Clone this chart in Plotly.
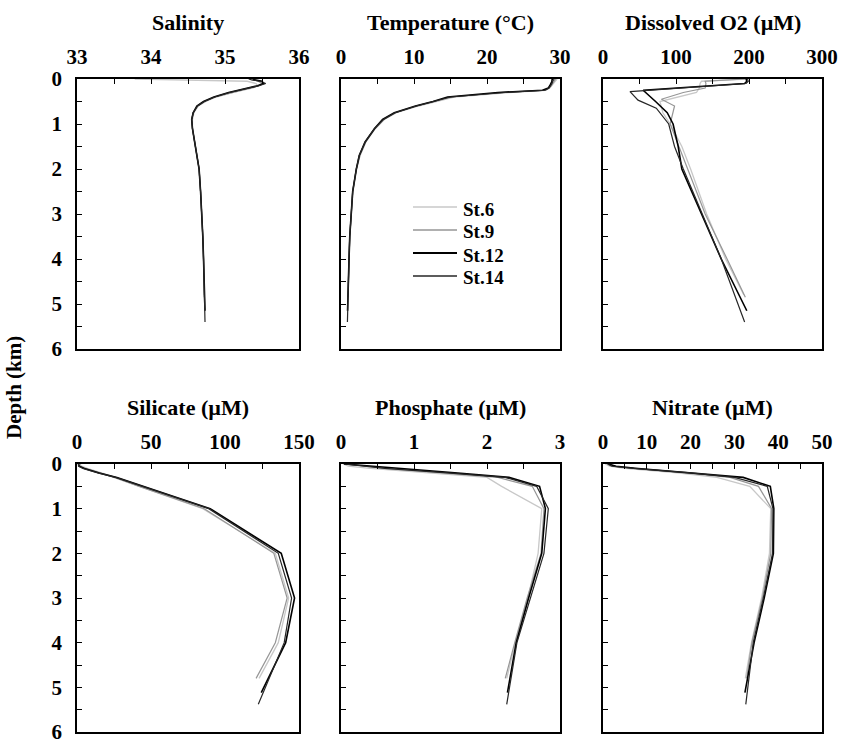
import plotly.graph_objects as go

W, H = 852, 745

STATIONS = ["St.6", "St.9", "St.12", "St.14"]
COLORS = {"St.6": "#c8c8c8", "St.9": "#969696", "St.12": "#000000", "St.14": "#262626"}
WIDTHS = {"St.6": 1.3, "St.9": 1.2, "St.12": 1.6, "St.14": 1.2}

# ---- CTD profiles (depth in km) ----
CTD_DEPTH_6 = [0, 0.02, 0.05, 0.1, 0.15, 0.2, 0.25, 0.3, 0.4, 0.5, 0.6, 0.75, 0.9, 1.1, 1.4, 1.7, 2.0, 2.5, 3.0, 3.5, 4.0, 4.5, 4.8]
CTD_DEPTH_9 = [0, 0.02, 0.05, 0.1, 0.15, 0.2, 0.25, 0.3, 0.4, 0.5, 0.6, 0.75, 0.9, 1.1, 1.4, 1.7, 2.0, 2.5, 3.0, 3.5, 4.0, 4.5, 4.85]
CTD_DEPTH_12 = [0, 0.02, 0.05, 0.1, 0.15, 0.2, 0.25, 0.3, 0.4, 0.5, 0.6, 0.75, 0.9, 1.1, 1.4, 1.7, 2.0, 2.5, 3.0, 3.5, 4.0, 4.5, 5.0, 5.15]
CTD_DEPTH_14 = [0, 0.02, 0.05, 0.1, 0.15, 0.2, 0.25, 0.3, 0.4, 0.5, 0.6, 0.75, 0.9, 1.1, 1.4, 1.7, 2.0, 2.5, 3.0, 3.5, 4.0, 4.5, 5.0, 5.4]

SAL_6 = [33.78, 34.60, 35.30, 35.42, 35.44, 35.38, 35.24, 35.10, 34.88, 34.74, 34.64, 34.58, 34.56, 34.56, 34.59, 34.62, 34.65, 34.67, 34.69, 34.70, 34.71, 34.72, 34.72]
SAL_9 = [35.36, 35.38, 35.45, 35.50, 35.46, 35.34, 35.20, 35.08, 34.87, 34.73, 34.63, 34.57, 34.55, 34.56, 34.59, 34.62, 34.65, 34.67, 34.69, 34.70, 34.71, 34.72, 34.72]
SAL_12 = [35.38, 35.40, 35.50, 35.52, 35.44, 35.30, 35.16, 35.05, 34.85, 34.71, 34.62, 34.57, 34.55, 34.56, 34.59, 34.62, 34.65, 34.67, 34.69, 34.70, 34.71, 34.72, 34.72, 34.73]
SAL_14 = [35.32, 35.36, 35.48, 35.55, 35.46, 35.32, 35.18, 35.06, 34.86, 34.72, 34.63, 34.57, 34.55, 34.56, 34.59, 34.62, 34.65, 34.67, 34.69, 34.70, 34.71, 34.72, 34.73, 34.73]

TEMP_6 = [29.6, 29.5, 29.3, 29.1, 28.9, 28.6, 28.0, 23.0, 15.5, 13.0, 10.6, 7.6, 5.9, 4.7, 3.4, 2.6, 2.15, 1.65, 1.4, 1.2, 1.1, 1.0, 0.95]
TEMP_9 = [29.4, 29.3, 29.2, 29.0, 28.8, 28.5, 27.8, 22.0, 15.2, 12.9, 10.5, 7.5, 5.9, 4.7, 3.4, 2.6, 2.1, 1.6, 1.35, 1.2, 1.1, 1.0, 0.95]
TEMP_12 = [29.0, 28.9, 28.9, 28.8, 28.6, 28.4, 27.6, 21.5, 14.6, 12.6, 10.2, 7.3, 5.7, 4.6, 3.3, 2.5, 2.1, 1.6, 1.35, 1.2, 1.1, 1.0, 0.9, 0.9]
TEMP_14 = [29.2, 29.1, 29.0, 28.9, 28.7, 28.5, 28.0, 22.5, 15.0, 12.8, 10.3, 7.4, 5.8, 4.6, 3.3, 2.5, 2.1, 1.6, 1.35, 1.2, 1.1, 1.0, 0.9, 0.88]

# ---- Dissolved O2 bottle profiles ----
O2_DEPTH_6 = [0, 0.05, 0.1, 0.2, 0.3, 0.5, 0.75, 1.0, 1.5, 2.0, 3.0, 4.0, 4.8]
O2_6 = [196, 135, 133, 132, 128, 78, 82, 92, 108, 120, 142, 168, 193]
O2_DEPTH_9 = [0, 0.05, 0.1, 0.2, 0.3, 0.45, 0.6, 1.0, 1.5, 2.0, 3.0, 4.0, 4.85]
O2_9 = [195, 140, 141, 140, 110, 80, 98, 92, 104, 116, 140, 170, 195]
O2_DEPTH_12 = [0, 0.05, 0.1, 0.25, 0.5, 0.75, 1.0, 1.5, 2.0, 3.0, 4.0, 5.15]
O2_12 = [196, 197, 194, 55, 72, 88, 96, 103, 108, 135, 162, 197]
O2_DEPTH_14 = [0, 0.05, 0.1, 0.28, 0.47, 0.65, 1.0, 1.5, 2.0, 3.0, 4.0, 5.4]
O2_14 = [198, 199, 196, 37, 48, 73, 90, 98, 110, 136, 162, 194]

# ---- Nutrient bottle profiles ----
NUT_DEPTH_6 = [0, 0.05, 0.1, 0.2, 0.3, 0.5, 1.0, 2.0, 3.0, 4.0, 4.8]
NUT_DEPTH_9 = [0, 0.05, 0.1, 0.2, 0.3, 0.5, 1.0, 2.0, 3.0, 4.0, 4.8]
NUT_DEPTH_12 = [0, 0.05, 0.1, 0.2, 0.3, 0.5, 1.0, 2.0, 3.0, 4.0, 5.12]
NUT_DEPTH_14 = [0, 0.05, 0.1, 0.2, 0.3, 0.5, 1.0, 2.0, 3.0, 4.0, 5.38]

SIL_6 = [2, 3, 7, 17, 26, 42, 85, 134, 143, 136, 123]
SIL_9 = [2, 2, 6, 16, 25, 42, 86, 133, 142, 134, 121]
SIL_12 = [1, 1.5, 5, 15, 27, 45, 90, 138, 147, 141, 124.5]
SIL_14 = [1, 1, 4, 14, 26, 44, 89, 136, 145, 140, 122.5]

PHO_6 = [0.03, 0.10, 0.40, 1.20, 2.00, 2.20, 2.75, 2.70, 2.56, 2.39, 2.27]
PHO_9 = [0.05, 0.35, 0.60, 1.40, 2.15, 2.62, 2.78, 2.74, 2.55, 2.38, 2.25]
PHO_12 = [0.04, 0.45, 0.80, 1.60, 2.30, 2.72, 2.80, 2.75, 2.57, 2.40, 2.28]
PHO_14 = [0.05, 0.30, 0.60, 1.45, 2.25, 2.68, 2.84, 2.78, 2.60, 2.41, 2.27]

NIT_6 = [0.5, 1.5, 5, 17, 26, 33.5, 38.3, 38.0, 36.2, 33.9, 32.5]
NIT_9 = [1.5, 2.5, 7, 19, 29, 35.5, 38.5, 38.3, 36.4, 34.0, 32.8]
NIT_12 = [1.2, 3.0, 8, 21, 32, 38.2, 39.0, 38.9, 36.8, 34.5, 32.4]
NIT_14 = [1.0, 2.0, 7, 20, 30, 37.5, 38.8, 38.7, 36.6, 34.3, 32.6]

TITLES = ["Salinity", "Temperature (\u00b0C)", "Dissolved O2 (\u00b5M)",
          "Silicate (\u00b5M)", "Phosphate (\u00b5M)", "Nitrate (\u00b5M)"]
X_RANGES = [[33, 36], [0, 30], [0, 300], [0, 150], [0, 3], [0, 50]]
X_LABELS = [[33, 34, 35, 36], [0, 10, 20, 30], [0, 100, 200, 300],
            [0, 50, 100, 150], [0, 1, 2, 3], [0, 10, 20, 30, 40, 50]]
X_MINOR = [0.5, 5, 50, 25, 0.5, 5]
Y_LABELS = [0, 1, 2, 3, 4, 5, 6]
Y_TITLE = "Depth (km)"

panels = [
    {"St.6": (CTD_DEPTH_6, SAL_6), "St.9": (CTD_DEPTH_9, SAL_9), "St.12": (CTD_DEPTH_12, SAL_12), "St.14": (CTD_DEPTH_14, SAL_14)},
    {"St.6": (CTD_DEPTH_6, TEMP_6), "St.9": (CTD_DEPTH_9, TEMP_9), "St.12": (CTD_DEPTH_12, TEMP_12), "St.14": (CTD_DEPTH_14, TEMP_14)},
    {"St.6": (O2_DEPTH_6, O2_6), "St.9": (O2_DEPTH_9, O2_9), "St.12": (O2_DEPTH_12, O2_12), "St.14": (O2_DEPTH_14, O2_14)},
    {"St.6": (NUT_DEPTH_6, SIL_6), "St.9": (NUT_DEPTH_9, SIL_9), "St.12": (NUT_DEPTH_12, SIL_12), "St.14": (NUT_DEPTH_14, SIL_14)},
    {"St.6": (NUT_DEPTH_6, PHO_6), "St.9": (NUT_DEPTH_9, PHO_9), "St.12": (NUT_DEPTH_12, PHO_12), "St.14": (NUT_DEPTH_14, PHO_14)},
    {"St.6": (NUT_DEPTH_6, NIT_6), "St.9": (NUT_DEPTH_9, NIT_9), "St.12": (NUT_DEPTH_12, NIT_12), "St.14": (NUT_DEPTH_14, NIT_14)},
]

# panel boxes in pixels (left, right, top, bottom)
COLS_PX = [(77, 299), (341, 560), (603, 822)]
ROWS_PX = [(79, 349), (464, 732)]

FONT = "Liberation Serif"
fig = go.Figure()

for i, data in enumerate(panels):
    ax = "" if i == 0 else str(i + 1)
    for st in STATIONS:
        d, v = data[st]
        fig.add_trace(go.Scatter(
            x=v, y=d, mode="lines", name=st,
            line=dict(color=COLORS[st], width=WIDTHS[st]),
            xaxis="x" + ax, yaxis="y" + ax,
            showlegend=False, hoverinfo="skip"))

layout = dict(
    width=W, height=H, margin=dict(l=0, r=0, t=0, b=0, pad=0, autoexpand=False),
    paper_bgcolor="white", plot_bgcolor="white",
    font=dict(family=FONT, size=21, color="black", weight="bold"),
    showlegend=False,
)

annotations = []
shapes = []
for i in range(6):
    r, c = divmod(i, 3)
    xl, xr = COLS_PX[c]
    yt, yb = ROWS_PX[r]
    ax = "" if i == 0 else str(i + 1)
    lo, hi = X_RANGES[i]
    step = X_MINOR[i]
    n = int(round((hi - lo) / step))
    tv = [lo + k * step for k in range(n + 1)]
    tt = []
    for t in tv:
        match = [lab for lab in X_LABELS[i] if abs(lab - t) < 1e-9]
        tt.append(str(match[0]) if match else "")
    layout["xaxis" + ax] = dict(
        domain=[xl / W, xr / W], anchor="y" + ax, side="top",
        range=[lo, hi], tickmode="array", tickvals=tv, ticktext=tt,
        ticks="inside", ticklen=5, tickwidth=1.2, tickcolor="black",
        showline=True, linecolor="black", linewidth=1.6, mirror=True,
        showgrid=False, zeroline=False, ticklabelstandoff=5, automargin=False,
        ticklabeloverflow="allow",
        tickfont=dict(family=FONT, size=21, color="black", weight="bold"),
        fixedrange=True)
    yv = [k * 0.5 for k in range(13)]
    yt_text = [str(int(v)) if v == int(v) else "" for v in yv]
    layout["yaxis" + ax] = dict(
        domain=[1 - yb / H, 1 - yt / H], anchor="x" + ax,
        range=[6, 0], tickmode="array", tickvals=yv, ticktext=yt_text,
        showticklabels=(c == 0),
        ticks="inside", ticklen=5, tickwidth=1.2, tickcolor="black",
        showline=True, linecolor="black", linewidth=1.6, mirror=True,
        showgrid=False, zeroline=False, ticklabelstandoff=9, automargin=False,
        ticklabeloverflow="allow",
        tickfont=dict(family=FONT, size=21, color="black", weight="bold"),
        fixedrange=True)
    ty = 22 if r == 0 else 407
    annotations.append(dict(
        text=TITLES[i], x=(xl + xr) / 2 / W, y=1 - ty / H,
        xref="paper", yref="paper", xanchor="center", yanchor="middle",
        showarrow=False, font=dict(family=FONT, size=22, color="black", weight="bold")))

annotations.append(dict(
    text=Y_TITLE, x=14 / W, y=1 - 388 / H, xref="paper", yref="paper",
    xanchor="center", yanchor="middle", textangle=-90, showarrow=False,
    font=dict(family=FONT, size=21, color="black", weight="bold")))

# legend drawn inside the temperature panel
LEG_Y_PX = [207, 230, 253, 276]
for st, ly in zip(STATIONS, LEG_Y_PX):
    shapes.append(dict(type="line", xref="paper", yref="paper",
                       x0=413 / W, x1=457 / W, y0=1 - ly / H, y1=1 - ly / H,
                       line=dict(color=COLORS[st], width=WIDTHS[st] + 0.3)))
    annotations.append(dict(
        text=st, x=462 / W, y=1 - (ly + 2) / H, xref="paper", yref="paper",
        xanchor="left", yanchor="middle", showarrow=False, borderpad=0,
        font=dict(family=FONT, size=19, color="black", weight="bold")))

layout["annotations"] = annotations
layout["shapes"] = shapes
fig.update_layout(**layout)
fig.write_html("out.html")
